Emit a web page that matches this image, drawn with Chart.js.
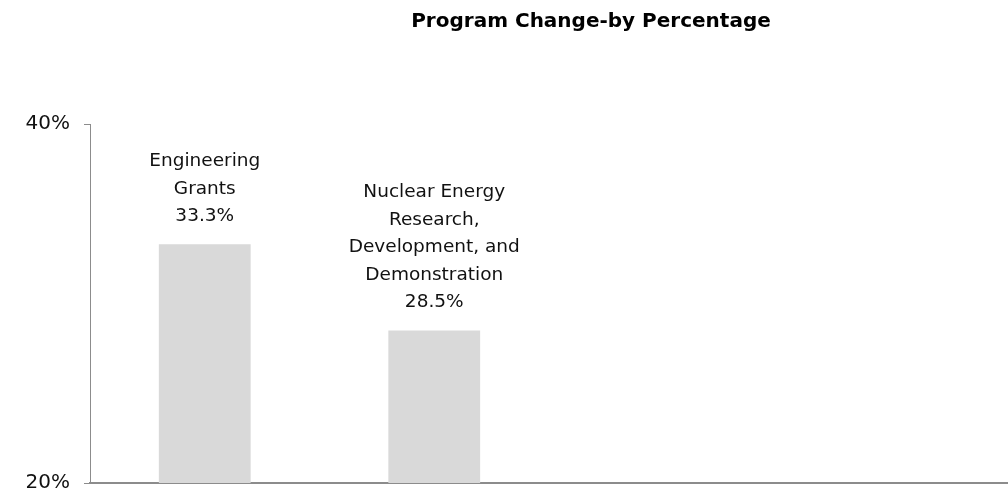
<!DOCTYPE html>
<html>
<head>
<meta charset="utf-8">
<script src="https://cdn.jsdelivr.net/npm/chart.js@4/dist/chart.umd.min.js"></script>
<style>
html,body{margin:0;padding:0;background:#fff;}
#wrap{width:1008px;height:500px;position:relative;}
</style>
</head>
<body>
<div id="wrap"><canvas id="c" width="1008" height="500"></canvas></div>
<script>
const title = "Program Change-by Percentage";
const categories = ["Engineering Grants", "Nuclear Energy Research, Development, and Demonstration", "", ""];
const labelLines = [["Engineering", "Grants"], ["Nuclear Energy", "Research,", "Development, and", "Demonstration"], [], []];
const values = [33.3, 28.5, null, null];
const yMin = 20, yMax = 40, yStep = 20;

const FONT = "'DejaVu Sans', sans-serif";

const labelPlugin = {
  id: 'barLabels',
  afterDatasetsDraw(chart) {
    const ctx = chart.ctx;
    const meta = chart.getDatasetMeta(0);
    ctx.save();
    ctx.font = "18.5px " + FONT;
    ctx.fillStyle = "#111";
    ctx.textAlign = "center";
    ctx.textBaseline = "middle";
    const lh = 27.5;
    meta.data.forEach((bar, i) => {
      const v = values[i];
      if (v === null || v === undefined) return;
      const lines = labelLines[i].concat([v.toFixed(1) + "%"]);
      let y = bar.y - 28;
      for (let k = lines.length - 1; k >= 0; k--) {
        ctx.fillText(lines[k], bar.x, y);
        y -= lh;
      }
    });
    ctx.restore();
  }
};

const titlePlugin = {
  id: 'customTitle',
  afterDraw(chart) {
    const ctx = chart.ctx;
    ctx.save();
    ctx.font = "bold 20px " + FONT;
    ctx.fillStyle = "#000";
    ctx.textAlign = "center";
    ctx.textBaseline = "middle";
    ctx.fillText(title, 591, 22);
    ctx.restore();
  }
};

new Chart(document.getElementById('c'), {
  type: 'bar',
  data: {
    labels: categories,
    datasets: [{
      data: values,
      backgroundColor: '#d9d9d9',
      borderWidth: 0,
      categoryPercentage: 1,
      barPercentage: 0.4
    }]
  },
  options: {
    responsive: false,
    animation: false,
    events: [],
    layout: { padding: { top: 124, right: -12, bottom: 0, left: 0 } },
    plugins: { legend: { display: false }, tooltip: { enabled: false }, title: { display: false } },
    scales: {
      x: {
        ticks: { display: false },
        grid: { display: false, drawTicks: false },
        border: { display: true, color: '#8c8c8c', width: 2 },
        afterFit(s) { s.height = 17; s.paddingLeft = 0; s.paddingRight = 0; }
      },
      y: {
        min: yMin, max: yMax,
        ticks: {
          stepSize: yStep,
          color: '#111',
          font: { size: 20, family: FONT },
          padding: 14,
          callback: v => v + '%'
        },
        grid: { drawOnChartArea: false, drawTicks: true, tickLength: 6, color: '#8c8c8c' },
        border: { display: true, color: '#8c8c8c', width: 1 },
        afterFit(s) { s.width = 90; s.paddingTop = 0; s.paddingBottom = 0; }
      }
    }
  },
  plugins: [labelPlugin, titlePlugin]
});
</script>
</body>
</html>
